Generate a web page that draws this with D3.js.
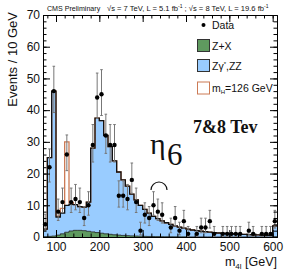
<!DOCTYPE html>
<html>
<head>
<meta charset="utf-8">
<script src="https://cdn.jsdelivr.net/npm/d3@7/dist/d3.min.js"></script>
<style>
  body { margin: 0; background: #fff; }
  text { font-family: "Liberation Sans", Arial, sans-serif; }
</style>
</head>
<body>
<script>
// bin lower edges, 10 GeV bins (last one holds the overflow)
var binLow = [70, 80, 90, 100, 110, 120, 130, 140, 150, 160,
              170, 180, 190, 200, 210, 220, 230, 240, 250, 260,
              270, 280, 290, 300, 310, 320, 330, 340, 350, 360,
              370, 380, 390, 400, 410, 420, 430, 440, 450, 460,
              470, 480, 490, 500, 510, 520, 530, 540, 550, 560,
              570, 580, 590, 600];
// Z+X (green)
var zxValues = [0.1, 0.2, 0.3, 0.6, 1.0, 1.5, 1.9, 2.1, 2.1, 2.0,
                1.8, 1.6, 1.4, 1.2, 1.0, 0.85, 0.7, 0.6, 0.5, 0.42,
                0.35, 0.3, 0.25, 0.2, 0.17, 0.14, 0.12, 0.1, 0.08, 0.07,
                0.06, 0.05, 0.04, 0.04, 0.03, 0.03, 0.03, 0.03, 0.03, 0.02,
                0.02, 0.02, 0.02, 0.01, 0.01, 0.01, 0.01, 0.01, 0.01, 0.01,
                0.01, 0.01, 0.01, 0.1];
// Zgamma*, ZZ (blue), stacked on Z+X
var zzValues = [2.4, 24.8, 45.7, 5.7, 6.5, 8.5, 8.4, 8.1, 7.5, 7.4,
                9.2, 26.4, 36.1, 35.5, 31.0, 27.65, 23.3, 19.9, 17.5, 15.6,
                13.15, 11.4, 9.75, 8.5, 7.33, 6.36, 5.68, 5.0, 4.42, 3.93,
                3.44, 3.05, 2.76, 2.46, 2.17, 1.97, 1.78, 1.63, 1.48, 1.34,
                1.24, 1.14, 1.04, 0.94, 0.89, 0.84, 0.79, 0.74, 0.69, 0.64,
                0.59, 0.54, 0.49, 3.4];
// mH = 126 GeV signal, stacked on top (outline only)
var sigValues = [0, 0, 0, 0.3, 1.5, 20, 0.5, 0, 0, 0,
                 0, 0, 0, 0, 0, 0, 0, 0, 0, 0,
                 0, 0, 0, 0, 0, 0, 0, 0, 0, 0,
                 0, 0, 0, 0, 0, 0, 0, 0, 0, 0,
                 0, 0, 0, 0, 0, 0, 0, 0, 0, 0,
                 0, 0, 0, 0];
// observed events
var dataCounts = [4, 22, 46, 8, 11, 26, 11, 12, 11, 6,
                  10, 29, 44, 45, 32, 29, 29, 13, 13, 12,
                  18, 11, 2, 7, 6, 10, 8, 7, 0, 3,
                  6, 2, 5, 1, 0, 1, 3, 3, 5, 1,
                  0, 1, 1, 1, 1, 1, 0, 2, 1, 0,
                  1, 1, 1, 5];

var xTicks = [100, 200, 300, 400, 500, 600];
var yTicks = [0, 10, 20, 30, 40, 50, 60, 70];

var legendLabels = ["Data", "Z+X", "Zγ*,ZZ", "mH=126 GeV"];

var width = 291, height = 279;
var binW = 10;

var svg = d3.select("body").append("svg")
    .attr("width", width)
    .attr("height", height);

var x = d3.scaleLinear().domain([70, 610]).range([43, 277]);
var y = d3.scaleLinear().domain([0, 70]).range([237, 15]);

// stacked tops
var bins = binLow.map(function(lo, i) {
  var zx = zxValues[i];
  var bg = zx + zzValues[i];
  return { lo: lo, zx: zx, bg: bg, tot: bg + sigValues[i], n: dataCounts[i] };
});
// extra point to close the last step
function withEnd(key) {
  var pts = bins.map(function(b) { return [b.lo, b[key]]; });
  pts.push([bins[bins.length - 1].lo + binW, bins[bins.length - 1][key]]);
  return pts;
}

var area = d3.area()
  .curve(d3.curveStepAfter)
  .x(function(d) { return x(d[0]); })
  .y0(y(0))
  .y1(function(d) { return y(d[1]); });
var line = d3.line()
  .curve(d3.curveStepAfter)
  .x(function(d) { return x(d[0]); })
  .y(function(d) { return y(d[1]); });

var plot = svg.append("g");

// blue ZZ (total background)
plot.append("path").attr("d", area(withEnd("bg")))
  .attr("fill", "#99ccff");
// signal outline
plot.append("path").attr("d", line(withEnd("tot")))
  .attr("fill", "none").attr("stroke", "#cc7a55").attr("stroke-width", 1.3);
// background outline
plot.append("path").attr("d", line(withEnd("bg")))
  .attr("fill", "none").attr("stroke", "#111").attr("stroke-width", 1.3);
// green Z+X
plot.append("path").attr("d", area(withEnd("zx")))
  .attr("fill", "#5f9a5f");
plot.append("path").attr("d", line(withEnd("zx")))
  .attr("fill", "none").attr("stroke", "#222").attr("stroke-width", 0.8);

// data points with poisson-style error bars
var pts = bins.filter(function(b) { return b.n > 0; });
var eb = plot.append("g").attr("stroke", "#777").attr("stroke-width", 1);
pts.forEach(function(b) {
  var cx = x(b.lo + binW / 2);
  var hi = b.n + 1 + Math.sqrt(b.n + 0.75);
  var lo = b.n - Math.sqrt(b.n - 0.25);
  eb.append("line").attr("x1", cx).attr("x2", cx).attr("y1", y(hi)).attr("y2", y(lo));
  eb.append("line").attr("x1", cx - 1.3).attr("x2", cx + 1.3).attr("y1", y(hi)).attr("y2", y(hi));
  eb.append("line").attr("x1", cx - 1.3).attr("x2", cx + 1.3).attr("y1", y(lo)).attr("y2", y(lo));
});
plot.selectAll("circle.pt").data(pts).enter().append("circle")
  .attr("class", "pt")
  .attr("cx", function(d) { return x(d.lo + binW / 2); })
  .attr("cy", function(d) { return y(d.n); })
  .attr("r", 2.2)
  .attr("fill", "#000");

// frame and axes (ticks pointing inward, like ROOT)
var xMinor = d3.range(80, 610, 20);
var yMinor = d3.range(0, 71, 2);

function styleAxis(g) {
  g.selectAll("path").attr("stroke", "#000");
  g.selectAll("line").attr("stroke", "#000");
  g.selectAll("text").attr("font-size", 12).attr("fill", "#111")
    .style("font-family", "'Liberation Sans', Arial, sans-serif");
}

svg.append("g").attr("transform", "translate(0," + y(0) + ")")
  .call(d3.axisBottom(x).tickValues(xTicks).tickSizeInner(-7).tickSizeOuter(0).tickPadding(5)
    .tickFormat(function(d, i) { return String(xTicks[i]); }))
  .call(styleAxis);
svg.append("g").attr("transform", "translate(0," + y(0) + ")")
  .call(d3.axisBottom(x).tickValues(xMinor).tickSizeInner(-3.5).tickSizeOuter(0).tickFormat(""))
  .call(styleAxis);
svg.append("g").attr("transform", "translate(0," + y(70) + ")")
  .call(d3.axisTop(x).tickValues(xTicks).tickSizeInner(-7).tickSizeOuter(0).tickFormat(""))
  .call(styleAxis);
svg.append("g").attr("transform", "translate(0," + y(70) + ")")
  .call(d3.axisTop(x).tickValues(xMinor).tickSizeInner(-3.5).tickSizeOuter(0).tickFormat(""))
  .call(styleAxis);

svg.append("g").attr("transform", "translate(" + x(70) + ",0)")
  .call(d3.axisLeft(y).tickValues(yTicks).tickSizeInner(-7).tickSizeOuter(0).tickPadding(3)
    .tickFormat(function(d, i) { return String(yTicks[i]); }))
  .call(styleAxis);
svg.append("g").attr("transform", "translate(" + x(70) + ",0)")
  .call(d3.axisLeft(y).tickValues(yMinor).tickSizeInner(-3.5).tickSizeOuter(0).tickFormat(""))
  .call(styleAxis);
svg.append("g").attr("transform", "translate(" + x(610) + ",0)")
  .call(d3.axisRight(y).tickValues(yTicks).tickSizeInner(-7).tickSizeOuter(0).tickFormat(""))
  .call(styleAxis);
svg.append("g").attr("transform", "translate(" + x(610) + ",0)")
  .call(d3.axisRight(y).tickValues(yMinor).tickSizeInner(-3.5).tickSizeOuter(0).tickFormat(""))
  .call(styleAxis);

// axis titles
svg.append("text")
  .attr("transform", "translate(17,12) rotate(-90)")
  .attr("text-anchor", "end")
  .attr("font-size", 13)
  .attr("fill", "#111")
  .text("Events / 10 GeV");

var xt = svg.append("text")
  .attr("x", 277).attr("y", 266)
  .attr("text-anchor", "end")
  .attr("font-size", 12.5)
  .attr("fill", "#111");
xt.append("tspan").text("m");
xt.append("tspan").attr("font-size", 8).attr("dy", 2.5).text("4l");
xt.append("tspan").attr("dy", -2.5).text(" [GeV]");

// header
svg.append("text").attr("x", 47).attr("y", 10.5)
  .attr("font-size", 7.1).attr("fill", "#111")
  .text("CMS Preliminary");
var hd = svg.append("text").attr("x", 107).attr("y", 10.5)
  .attr("font-size", 7.6).attr("fill", "#111");
hd.append("tspan").text("√s = 7 TeV, L = 5.1 fb");
hd.append("tspan").attr("font-size", 5).attr("dy", -3).text("-1");
hd.append("tspan").attr("dy", 3).text(" ; √s = 8 TeV, L = 19.6 fb");
hd.append("tspan").attr("font-size", 5).attr("dy", -3).text("-1");

// legend
var lg = svg.append("g");
lg.append("circle").attr("cx", 203.5).attr("cy", 25).attr("r", 2).attr("fill", "#000");
lg.append("text").attr("x", 212).attr("y", 29).attr("font-size", 10.5).attr("fill", "#111")
  .text(legendLabels[0]);

var boxes = [
  { y: 39.5, fill: "#5f9a5f", stroke: "#333" },
  { y: 59.5, fill: "#99ccff", stroke: "#333" },
  { y: 82, fill: "none", stroke: "#cc7a55" }
];
boxes.forEach(function(b) {
  lg.append("rect").attr("x", 197.5).attr("y", b.y).attr("width", 12).attr("height", 12)
    .attr("fill", b.fill).attr("stroke", b.stroke).attr("stroke-width", 1);
});
lg.append("text").attr("x", 212).attr("y", 49.5).attr("font-size", 10.5).attr("fill", "#111")
  .text(legendLabels[1]);
var l2 = lg.append("text").attr("x", 212).attr("y", 69.5).attr("font-size", 10.5).attr("fill", "#111");
l2.append("tspan").text("Zγ");
l2.append("tspan").attr("font-size", 6).attr("dy", -4).text("*");
l2.append("tspan").attr("dy", 4).text(",ZZ");
var l3 = lg.append("text").attr("x", 212).attr("y", 92).attr("font-size", 10.5).attr("fill", "#111");
l3.append("tspan").text("m");
l3.append("tspan").attr("font-size", 6).attr("dy", 2).text("H");
l3.append("tspan").attr("dy", -2).text("=126 GeV");

// hand-written annotations
svg.append("text").attr("x", 193).attr("y", 133)
  .attr("font-size", 18).attr("font-weight", "bold")
  .style("font-family", "'Liberation Serif', 'DejaVu Serif', serif")
  .attr("fill", "#111").text("7&8 Tev");

svg.append("text").attr("x", 150).attr("y", 154)
  .attr("font-size", 30)
  .style("font-family", "'Liberation Serif', 'DejaVu Serif', serif")
  .attr("fill", "#111").text("η");
svg.append("text").attr("x", 167).attr("y", 165)
  .attr("font-size", 31)
  .style("font-family", "'Liberation Serif', 'DejaVu Serif', serif")
  .attr("fill", "#111").text("6");

svg.append("path")
  .attr("d", "M151,190 A8,8 0 0 1 167,190")
  .attr("fill", "none").attr("stroke", "#111").attr("stroke-width", 1.2);
</script>
</body>
</html>
